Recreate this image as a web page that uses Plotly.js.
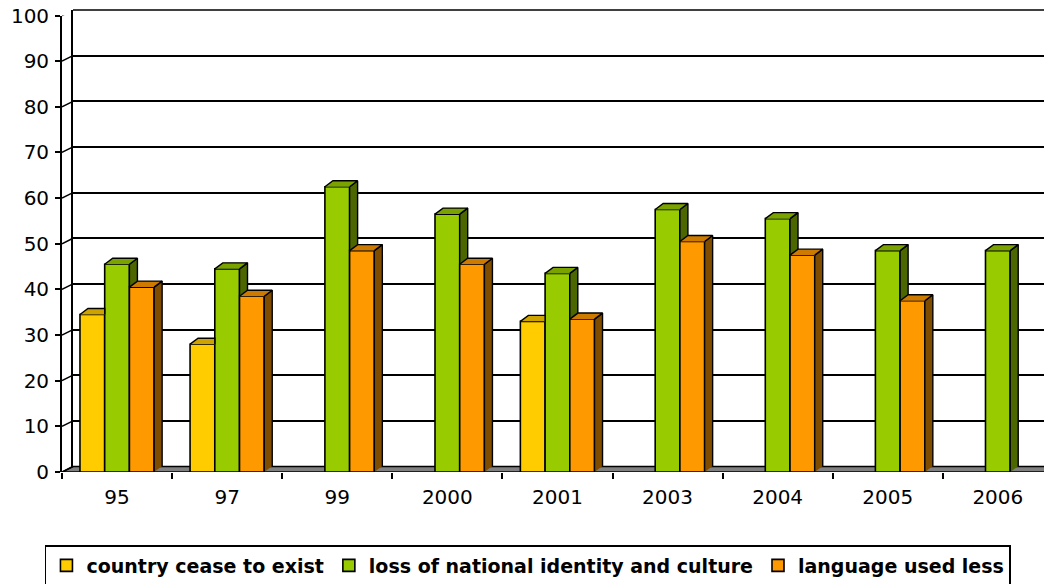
<!DOCTYPE html>
<html>
<head>
<meta charset="utf-8">
<script src="https://cdn.plot.ly/plotly-3.0.1.min.js"></script>
<style>html,body{margin:0;padding:0;background:#fff;}#chart{width:1044px;height:584px;}</style>
</head>
<body>
<div id="chart"></div>
<script>
// ---- data ----
const categories = ['95', '97', '99', '2000', '2001', '2003', '2004', '2005', '2006'];
const ceaseToExist = [34.5, 28, null, null, 33, null, null, null, null];
const lossOfIdentity = [45.5, 44.5, 62.5, 56.5, 43.5, 57.5, 55.5, 48.5, 48.5];
const languageUsedLess = [40.5, 38.5, 48.5, 45.5, 33.5, 50.5, 47.5, 37.5, null];
const seriesNames = ['country cease to exist', 'loss of national identity and culture', 'language used less'];
const yTicks = [0, 10, 20, 30, 40, 50, 60, 70, 80, 90, 100];

// ---- styling / geometry ----
const W = 1044, H = 584;
const M = {l: 62, r: 0, t: 10, b: 112};
const plotW = W - M.l - M.r, plotH = H - M.t - M.b;
const wallShiftX = 11, wallShiftY = 5.5;      // px offset of back wall
const catPx = 110.1;                            // px per category
const xMin = -0.5, xMax = xMin + plotW / catPx;
const frontTopFrac = (plotH - wallShiftY) / plotH;
const pxPerUnit = (plotH - wallShiftY) / 100;
const barW = 0.2245;
const depthX = 8 / catPx, depthY = 6 / pxPerUnit;
const wallDX = wallShiftX / catPx, wallDY = wallShiftY / pxPerUnit;

const faceCol = ['#FFCC00', '#99CC00', '#FF9900'];
const topCol = ['#CCA300', '#7AA300', '#CC7A00'];
const sideCol = ['#997A00', '#4C6600', '#804C00'];
const seriesVals = [ceaseToExist, lossOfIdentity, languageUsedLess];
const offsets = [-1.5 * barW, -0.5 * barW, 0.5 * barW];
const FONT = 'DejaVu Sans, Liberation Sans, Arial, sans-serif';

const traces = [];
// dummy trace for back-wall subplot
traces.push({type: 'scatter', x: [null], y: [null], xaxis: 'x', yaxis: 'y', showlegend: false, hoverinfo: 'skip'});

// front faces
seriesVals.forEach((vals, s) => {
  traces.push({
    type: 'bar', name: seriesNames[s], x: categories.map((c, i) => i), y: vals,
    xaxis: 'x2', yaxis: 'y2', width: barW, offset: offsets[s],
    marker: {color: faceCol[s], line: {color: '#000', width: 1.6}},
    hovertext: categories, hoverinfo: 'y+name'
  });
});

// 3-D top & side faces computed from values
seriesVals.forEach((vals, s) => {
  const tx = [], ty = [], sx = [], sy = [];
  vals.forEach((v, i) => {
    if (v === null) return;
    const L = i + offsets[s], R = L + barW;
    const nextVals = seriesVals[s + 1];
    const vn = nextVals ? nextVals[i] : null;
    if (vn !== null && vn > v) {
      tx.push(L, L + depthX, R, R, null); ty.push(v, v + depthY, v + depthY, v, null);
    } else {
      tx.push(L, L + depthX, R + depthX, R, null); ty.push(v, v + depthY, v + depthY, v, null);
    }
    if (vn === null) {
      sx.push(R, R, R + depthX, R + depthX, null); sy.push(0, v, v + depthY, depthY, null);
    } else if (vn < v) {
      sx.push(R, R, R + depthX, R + depthX, null); sy.push(vn, v, v + depthY, vn + depthY, null);
    }
  });
  traces.push({type: 'scatter', mode: 'lines', x: sx, y: sy, xaxis: 'x2', yaxis: 'y2', fill: 'toself',
    fillcolor: sideCol[s], line: {color: '#000', width: 1.4}, showlegend: false, hoverinfo: 'skip'});
  traces.push({type: 'scatter', mode: 'lines', x: tx, y: ty, xaxis: 'x2', yaxis: 'y2', fill: 'toself',
    fillcolor: topCol[s], line: {color: '#000', width: 1.4}, showlegend: false, hoverinfo: 'skip'});
});

const shapes = [];
// back wall top edge
shapes.push({type: 'line', xref: 'paper', yref: 'paper', layer: 'below',
  x0: wallShiftX / plotW, x1: 1, y0: 1, y1: 1, line: {color: '#000', width: 1.6}});
// floor
shapes.push({type: 'path', xref: 'x2', yref: 'y2', layer: 'between',
  path: `M ${xMin},0 L ${xMin + wallDX},${wallDY} L ${xMax + 1},${wallDY} L ${xMax + 1},0 Z`,
  fillcolor: '#808080', line: {color: '#000', width: 1.5}});
// side-wall grid diagonals
yTicks.forEach(t => {
  shapes.push({type: 'line', xref: 'x2', yref: 'y2', layer: 'above',
    x0: xMin, y0: t, x1: xMin + wallDX, y1: t + wallDY, line: {color: '#000', width: 1.5}});
});

const layout = {
  width: W, height: H, margin: M, paper_bgcolor: '#fff', plot_bgcolor: 'rgba(0,0,0,0)',
  barmode: 'overlay', showlegend: true, hovermode: 'closest',
  font: {family: FONT, color: '#000', size: 20},
  xaxis: {domain: [wallShiftX / plotW, 1], range: [0, 1], anchor: 'y', showgrid: false, zeroline: false,
    showline: false, showticklabels: false, ticks: '', fixedrange: true},
  yaxis: {domain: [wallShiftY / plotH, 1], range: [0, 100], anchor: 'x', tickvals: yTicks, showgrid: true,
    gridcolor: '#000', gridwidth: 1.6, showline: true, linecolor: '#000', linewidth: 1.5,
    showticklabels: false, ticks: '', zeroline: false, fixedrange: true},
  xaxis2: {domain: [0, 1], range: [xMin, xMax], anchor: 'y2', tickmode: 'array',
    tickvals: categories.map((c, i) => i), ticktext: categories, ticks: '', showgrid: false,
    zeroline: false, showline: false, tickfont: {family: FONT, size: 20, color: '#000'},
    ticklabelstandoff: 11,
    minor: {tickmode: 'array', tickvals: categories.map((c, i) => i - 0.5), ticks: 'outside',
      ticklen: 6, tickwidth: 1.5, tickcolor: '#000', showgrid: false}},
  yaxis2: {domain: [0, frontTopFrac], range: [0, 100], anchor: 'x2', tickvals: yTicks, ticks: 'outside',
    ticklen: 5, tickwidth: 1.5, tickcolor: '#000', showline: true, linecolor: '#000', linewidth: 1.8,
    showgrid: false, zeroline: false, tickfont: {family: FONT, size: 20, color: '#000'}, ticklabelstandoff: 2},
  legend: {orientation: 'h', xref: 'container', yref: 'container', x: 0.5057, xanchor: 'center',
    y: 1 - 545 / H, yanchor: 'top', bgcolor: '#fff', bordercolor: '#000', borderwidth: 1.5,
    font: {family: FONT, size: 19, weight: 'bold', color: '#000'}, traceorder: 'normal'},
  shapes: shapes
};

Plotly.newPlot('chart', traces, layout, {displayModeBar: false, staticPlot: false});
</script>
</body>
</html>
